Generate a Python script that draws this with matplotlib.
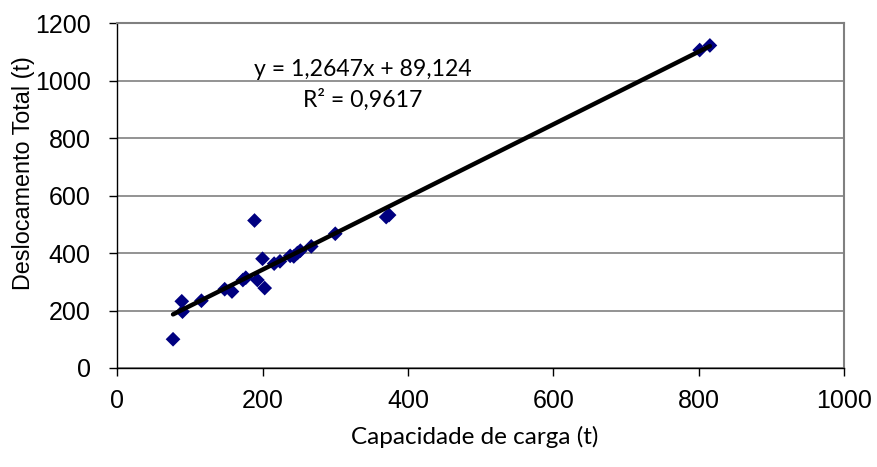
import matplotlib.pyplot as plt
import numpy as np

# Capacidade de carga (t) x Deslocamento total (t)
capacidade = [77, 89, 90, 116, 148, 158, 173, 177, 189, 193, 200, 203,
              216, 224, 238, 243, 248, 252, 267, 300, 370, 374, 801, 815]
deslocamento = [100, 232, 196, 234, 274, 266, 306, 314, 513, 306, 380, 278,
                363, 371, 390, 388, 400, 408, 423, 467, 525, 532, 1106, 1122]

# Linha de tendencia (regressao linear)
inclinacao = 1.2647
intercepto = 89.124
r2 = 0.9617

fig = plt.figure(figsize=(8.78, 4.67), dpi=100)
ax = fig.add_axes([0.1333, 0.212, 0.8285, 0.7387])

ax.scatter(capacidade, deslocamento, marker='D', s=7.5**2, color='#000080',
           edgecolors='none', zorder=3)

x_tend = np.array([min(capacidade), max(capacidade)])
ax.plot(x_tend, inclinacao * x_tend + intercepto, color='black', lw=3.2,
        solid_capstyle='round', zorder=4)

ax.set_xlim(0, 1000)
ax.set_ylim(0, 1200)
ax.set_xticks(range(0, 1001, 200))
ax.set_yticks(range(0, 1201, 200))

ax.yaxis.grid(True, color='#808080', lw=1.2)
ax.set_axisbelow(True)
for s in ['top', 'right']:
    ax.spines[s].set_color('#808080')
    ax.spines[s].set_linewidth(1.5)
for s in ['left', 'bottom']:
    ax.spines[s].set_color('black')
    ax.spines[s].set_linewidth(1.0)

ax.tick_params(axis='y', direction='out', length=6, width=1, labelsize=18, pad=13)
ax.tick_params(axis='x', direction='out', length=6, width=1, labelsize=18, pad=9)
for lb in ax.get_yticklabels() + ax.get_xticklabels():
    lb.set_family('Liberation Sans')

ax.set_ylabel('Deslocamento Total (t)', fontsize=16.8, family='Liberation Sans')
ax.yaxis.set_label_coords(-0.128, 0.565)
ax.yaxis.label.set_va('center')
ax.set_xlabel('Capacidade de carga (t)', fontsize=17.5, family='Lato')
ax.xaxis.set_label_coords(0.492, -0.2)
ax.xaxis.label.set_va('center')

eq = f'y = {inclinacao:.4f}x + {intercepto:.3f}'.replace('.', ',')
rr = f'R² = {r2:.4f}'.replace('.', ',')
ax.text(338, 1040, eq, fontsize=16.6, family='Lato', ha='center', va='center')
ax.text(338, 932, rr, fontsize=16.6, family='Lato', ha='center', va='center')

fig.savefig('out.png', dpi=100)
